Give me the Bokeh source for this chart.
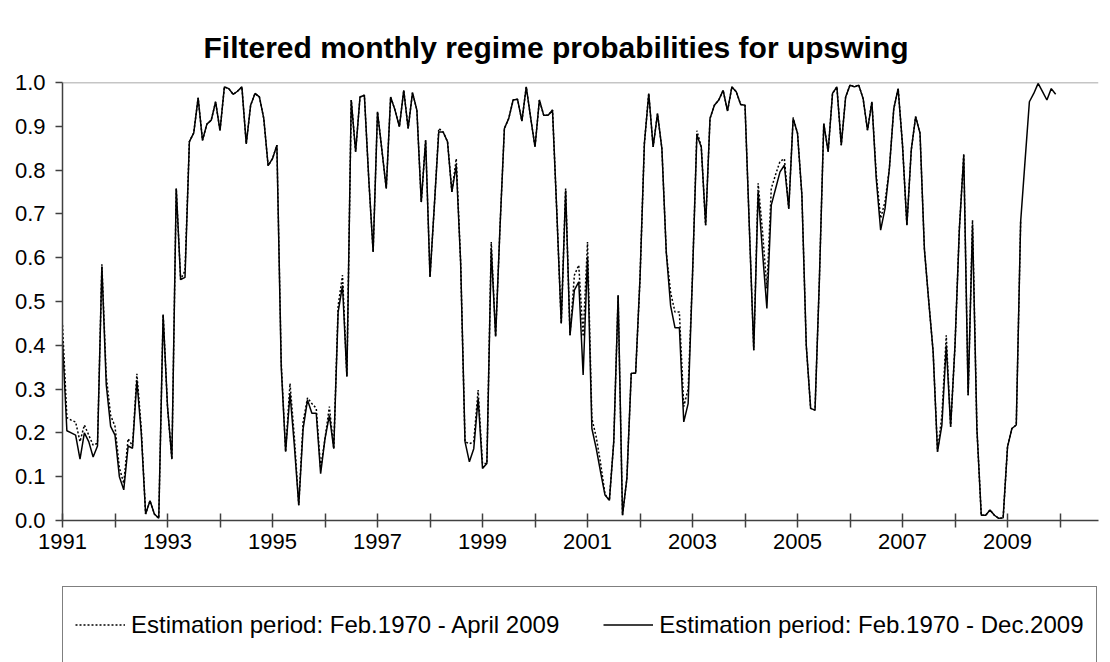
import numpy as np
from bokeh.plotting import figure
from bokeh.layouts import column
from bokeh.models import Range1d, FixedTicker, Span, Legend, LegendItem
from bokeh.embed import file_html
from bokeh.resources import INLINE

title_text = "Filtered monthly regime probabilities for upswing"
series_names = ["Estimation period: Feb.1970 - April 2009",
                "Estimation period: Feb.1970 - Dec.2009"]
start_year = 1991

# Estimation period Feb.1970 - Dec.2009 (solid), Jan 1991 .. Dec 2009
est_dec2009 = [
    0.41, 0.205, 0.20, 0.195, 0.14, 0.20, 0.18, 0.145, 0.17, 0.58, 0.31, 0.215,
    0.195, 0.10, 0.07, 0.17, 0.165, 0.32, 0.20, 0.015, 0.045, 0.015, 0.005, 0.47,
    0.26, 0.14, 0.758, 0.55, 0.555, 0.865, 0.885, 0.965, 0.868, 0.905, 0.914, 0.956,
    0.89, 0.99, 0.986, 0.973, 0.98, 0.99, 0.86, 0.948, 0.975, 0.967, 0.918, 0.81,
    0.826, 0.857, 0.35, 0.157, 0.29, 0.17, 0.035, 0.21, 0.275, 0.245, 0.245, 0.107,
    0.187, 0.24, 0.164, 0.476, 0.537, 0.328, 0.96, 0.842, 0.967, 0.971, 0.78, 0.613,
    0.933, 0.846, 0.758, 0.967, 0.937, 0.899, 0.982, 0.895, 0.977, 0.937, 0.727, 0.868,
    0.556, 0.72, 0.887, 0.887, 0.865, 0.75, 0.811, 0.59, 0.18, 0.134, 0.164, 0.279,
    0.119, 0.13, 0.621, 0.42, 0.67, 0.895, 0.918, 0.96, 0.962, 0.912, 0.99, 0.92,
    0.853, 0.96, 0.925, 0.925, 0.937, 0.70, 0.45, 0.754, 0.423, 0.526, 0.545, 0.332,
    0.602, 0.21, 0.164, 0.11, 0.058, 0.046, 0.18, 0.514, 0.012, 0.096, 0.336, 0.336,
    0.553, 0.861, 0.975, 0.853, 0.929, 0.849, 0.613, 0.49, 0.44, 0.44, 0.225, 0.267,
    0.56, 0.88, 0.853, 0.674, 0.918, 0.948, 0.96, 0.982, 0.935, 0.99, 0.979, 0.95,
    0.948, 0.667, 0.389, 0.75, 0.613, 0.484, 0.72, 0.758, 0.796, 0.811, 0.712, 0.918,
    0.884, 0.743, 0.40, 0.256, 0.252, 0.55, 0.906, 0.842, 0.975, 0.99, 0.857, 0.967,
    0.994, 0.99, 0.994, 0.963, 0.891, 0.956, 0.78, 0.663, 0.712, 0.804, 0.94, 0.986,
    0.857, 0.674, 0.846, 0.922, 0.884, 0.62, 0.50, 0.385, 0.157, 0.218, 0.40, 0.214,
    0.40, 0.667, 0.834, 0.286, 0.674, 0.21, 0.012, 0.012, 0.024, 0.012, 0.005, 0.006,
    0.168, 0.21, 0.218, 0.682, 0.82, 0.956, 0.975, 0.998, 0.979, 0.96, 0.986, 0.973,
]

# Estimation period Feb.1970 - April 2009 (dotted), Jan 1991 .. Apr 2009
est_apr2009 = [
    0.446, 0.235, 0.229, 0.225, 0.18, 0.218, 0.195, 0.172, 0.176, 0.585, 0.33, 0.24,
    0.215, 0.12, 0.085, 0.187, 0.17, 0.335, 0.21, 0.015, 0.045, 0.015, 0.005, 0.47,
    0.26, 0.14, 0.758, 0.55, 0.57, 0.865, 0.885, 0.965, 0.868, 0.905, 0.914, 0.956,
    0.89, 0.99, 0.986, 0.973, 0.98, 0.99, 0.86, 0.948, 0.975, 0.967, 0.918, 0.81,
    0.826, 0.857, 0.36, 0.157, 0.313, 0.19, 0.035, 0.225, 0.28, 0.267, 0.256, 0.12,
    0.187, 0.26, 0.164, 0.49, 0.56, 0.33, 0.96, 0.842, 0.967, 0.971, 0.78, 0.613,
    0.933, 0.846, 0.758, 0.967, 0.937, 0.899, 0.982, 0.895, 0.977, 0.937, 0.727, 0.868,
    0.556, 0.72, 0.895, 0.887, 0.865, 0.75, 0.826, 0.59, 0.18, 0.175, 0.18, 0.298,
    0.13, 0.13, 0.636, 0.42, 0.67, 0.895, 0.918, 0.96, 0.962, 0.912, 0.99, 0.92,
    0.853, 0.96, 0.925, 0.925, 0.937, 0.70, 0.45, 0.758, 0.423, 0.56, 0.583, 0.42,
    0.636, 0.233, 0.19, 0.13, 0.06, 0.046, 0.18, 0.514, 0.012, 0.096, 0.336, 0.336,
    0.553, 0.861, 0.975, 0.853, 0.929, 0.849, 0.613, 0.52, 0.476, 0.476, 0.26, 0.30,
    0.56, 0.89, 0.853, 0.674, 0.918, 0.948, 0.96, 0.982, 0.935, 0.99, 0.979, 0.95,
    0.948, 0.667, 0.389, 0.77, 0.66, 0.53, 0.758, 0.79, 0.82, 0.826, 0.712, 0.92,
    0.884, 0.743, 0.40, 0.256, 0.252, 0.55, 0.906, 0.842, 0.975, 0.99, 0.857, 0.967,
    0.994, 0.99, 0.994, 0.963, 0.891, 0.956, 0.79, 0.69, 0.728, 0.804, 0.94, 0.986,
    0.857, 0.674, 0.846, 0.922, 0.884, 0.62, 0.50, 0.385, 0.157, 0.24, 0.423, 0.214,
    0.40, 0.667, 0.838, 0.286, 0.686, 0.21, 0.012, 0.012, 0.024, 0.012, 0.005, 0.006,
    0.168, 0.21, 0.218, 0.682,
]

x_tick_years = list(range(1991, 2011))
x_label_years = [1991, 1993, 1995, 1997, 1999, 2001, 2003, 2005, 2007, 2009]
y_ticks = [0.0, 0.1, 0.2, 0.3, 0.4, 0.5, 0.6, 0.7, 0.8, 0.9, 1.0]
y_tick_labels = ["0.0", "0.1", "0.2", "0.3", "0.4", "0.5", "0.6", "0.7", "0.8", "0.9", "1.0"]

FONT = "Liberation Sans"
AXIS_COLOR = "#404040"
DOT = "2 2"

x_dec = start_year + np.arange(len(est_dec2009)) / 12.0
x_apr = start_year + np.arange(len(est_apr2009)) / 12.0

p = figure(width=1110, height=560, output_backend="svg", toolbar_location=None,
           x_range=Range1d(1991.0, 2010.733), y_range=Range1d(0.0, 1.0),
           min_border_left=62, min_border_right=12, min_border_top=82, min_border_bottom=40)
p.outline_line_color = None
p.background_fill_color = "white"
p.border_fill_color = "white"
p.xgrid.visible = False
p.ygrid.visible = False

r_apr = p.line(x_apr, est_apr2009, line_color="black", line_width=1.5, line_dash=DOT)
r_dec = p.line(x_dec, est_dec2009, line_color="black", line_width=1.5)

p.add_layout(Span(location=1.0, dimension="width", line_color="#8c8c8c", line_width=1.5))

# title (centred on the whole picture, not on the plot frame)
p.title.text = title_text
p.title.align = "left"
p.title.offset = 141
p.title.text_font = FONT
p.title.text_font_style = "bold"
p.title.text_font_size = "30px"
p.title.text_color = "black"
p.title.standoff = 38

# axes
p.xaxis.ticker = FixedTicker(ticks=x_tick_years)
p.xaxis.major_label_overrides = {y: (str(y) if y in x_label_years else "") for y in x_tick_years}
p.xaxis.minor_tick_line_color = None
p.xaxis.major_tick_in = 7
p.xaxis.major_tick_out = 7
p.xaxis.axis_line_color = AXIS_COLOR
p.xaxis.major_tick_line_color = AXIS_COLOR
p.xaxis.axis_line_width = 1.5
p.xaxis.major_tick_line_width = 1.5
p.xaxis.major_label_standoff = 6
p.xaxis.major_label_text_font = FONT
p.xaxis.major_label_text_font_size = "22px"
p.xaxis.major_label_text_color = "black"

p.yaxis.ticker = FixedTicker(ticks=y_ticks)
p.yaxis.major_label_overrides = {t: l for t, l in zip(y_ticks, y_tick_labels)}
p.yaxis.minor_tick_line_color = None
p.yaxis.major_tick_in = 0
p.yaxis.major_tick_out = 7
p.yaxis.axis_line_color = AXIS_COLOR
p.yaxis.major_tick_line_color = AXIS_COLOR
p.yaxis.axis_line_width = 1.5
p.yaxis.major_tick_line_width = 1.5
p.yaxis.major_label_standoff = 10
p.yaxis.major_label_text_font = FONT
p.yaxis.major_label_text_font_size = "22px"
p.yaxis.major_label_text_color = "black"

# legend strip below the chart; its sample lines reuse the series' line styles
leg = figure(width=1110, height=102, output_backend="svg", toolbar_location=None,
             x_range=Range1d(0, 1), y_range=Range1d(0, 1),
             x_axis_type=None, y_axis_type=None,
             min_border_left=0, min_border_right=0, min_border_top=0, min_border_bottom=0)
leg.outline_line_color = None
leg.xgrid.visible = False
leg.ygrid.visible = False
leg.border_fill_color = "white"
l_apr = leg.line(x_apr, est_apr2009, line_color="black", line_width=1.5, line_dash=DOT)
l_dec = leg.line(x_dec, est_dec2009, line_color="black", line_width=1.5)

legend = Legend(items=[LegendItem(label=series_names[0], renderers=[l_apr]),
                       LegendItem(label=series_names[1], renderers=[l_dec])],
                orientation="horizontal", location=(0, -1),
                padding=12, spacing=44, label_standoff=6, glyph_width=50,
                glyph_height=51, label_height=51, margin=0,
                border_line_color="black", border_line_width=1,
                background_fill_color="white", background_fill_alpha=1.0,
                label_text_font=FONT, label_text_font_size="24px", label_text_color="black")
leg.add_layout(legend, "center")

layout = column(p, leg, spacing=0)
open("out.html", "w").write(file_html(layout, INLINE))
